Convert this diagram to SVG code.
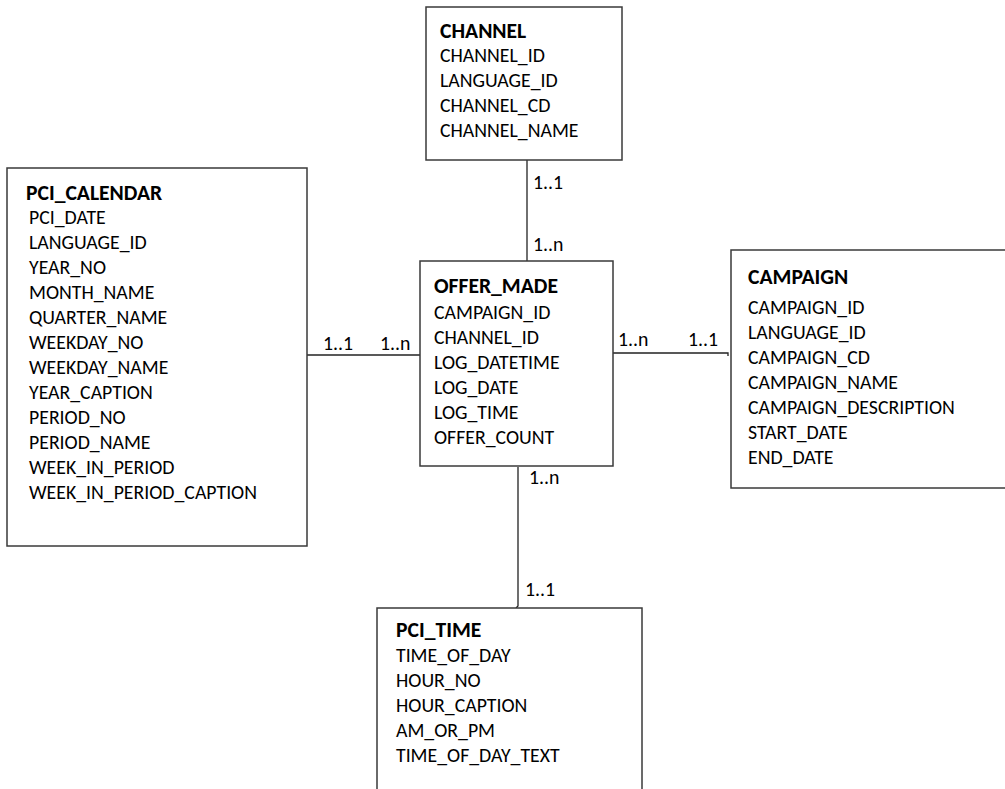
<svg xmlns="http://www.w3.org/2000/svg" width="1005" height="789" viewBox="0 0 1005 789">
<style>
.box{fill:#fff;stroke:#3a3a3a;stroke-width:1.5}
text{font-family:Carlito,Lato,"Open Sans",sans-serif;font-size:19.8px;fill:#000}
.t{font-weight:bold;font-size:21.6px}
.c{fill:none;stroke:#222;stroke-width:1.3}
</style>
<rect width="1005" height="789" fill="#fff"/>
<g id="connectors">
<path class="c" d="M527 160V261"/>
<path class="c" d="M307 355H420"/>
<path class="c" d="M613 353H728V356"/>
<path class="c" d="M518 467V606L516 608"/>
<text x="533" y="189">1..1</text>
<text x="533" y="251">1..n</text>
<text x="323" y="350">1..1</text>
<text x="380" y="350">1..n</text>
<text x="618" y="346">1..n</text>
<text x="688" y="346">1..1</text>
<text x="529" y="484">1..n</text>
<text x="525" y="596">1..1</text>
</g>
<g id="channel">
<rect class="box" x="426" y="7" width="196" height="153"/>
<text class="t" x="440" y="38">CHANNEL</text>
<text x="440" y="62">CHANNEL_ID</text>
<text x="440" y="87">LANGUAGE_ID</text>
<text x="440" y="112">CHANNEL_CD</text>
<text x="440" y="137">CHANNEL_NAME</text>
</g>
<g id="pci_calendar">
<rect class="box" x="7" y="168" width="300" height="378"/>
<text class="t" x="26" y="200">PCI_CALENDAR</text>
<text x="29" y="224">PCI_DATE</text>
<text x="29" y="249">LANGUAGE_ID</text>
<text x="29" y="274">YEAR_NO</text>
<text x="29" y="299">MONTH_NAME</text>
<text x="29" y="324">QUARTER_NAME</text>
<text x="29" y="349">WEEKDAY_NO</text>
<text x="29" y="374">WEEKDAY_NAME</text>
<text x="29" y="399">YEAR_CAPTION</text>
<text x="29" y="424">PERIOD_NO</text>
<text x="29" y="449">PERIOD_NAME</text>
<text x="29" y="474">WEEK_IN_PERIOD</text>
<text x="29" y="499">WEEK_IN_PERIOD_CAPTION</text>
</g>
<g id="offer_made">
<rect class="box" x="420" y="261" width="193" height="205"/>
<text class="t" x="434" y="293">OFFER_MADE</text>
<text x="434" y="319">CAMPAIGN_ID</text>
<text x="434" y="344">CHANNEL_ID</text>
<text x="434" y="369">LOG_DATETIME</text>
<text x="434" y="394">LOG_DATE</text>
<text x="434" y="419">LOG_TIME</text>
<text x="434" y="444">OFFER_COUNT</text>
</g>
<g id="campaign">
<rect class="box" x="731" y="250" width="290" height="238"/>
<text class="t" x="748" y="284">CAMPAIGN</text>
<text x="748" y="314">CAMPAIGN_ID</text>
<text x="748" y="339">LANGUAGE_ID</text>
<text x="748" y="364">CAMPAIGN_CD</text>
<text x="748" y="389">CAMPAIGN_NAME</text>
<text x="748" y="414">CAMPAIGN_DESCRIPTION</text>
<text x="748" y="439">START_DATE</text>
<text x="748" y="464">END_DATE</text>
</g>
<g id="pci_time">
<rect class="box" x="377" y="608" width="265" height="200"/>
<text class="t" x="396" y="637">PCI_TIME</text>
<text x="396" y="662">TIME_OF_DAY</text>
<text x="396" y="687">HOUR_NO</text>
<text x="396" y="712">HOUR_CAPTION</text>
<text x="396" y="737">AM_OR_PM</text>
<text x="396" y="762">TIME_OF_DAY_TEXT</text>
</g>
</svg>
